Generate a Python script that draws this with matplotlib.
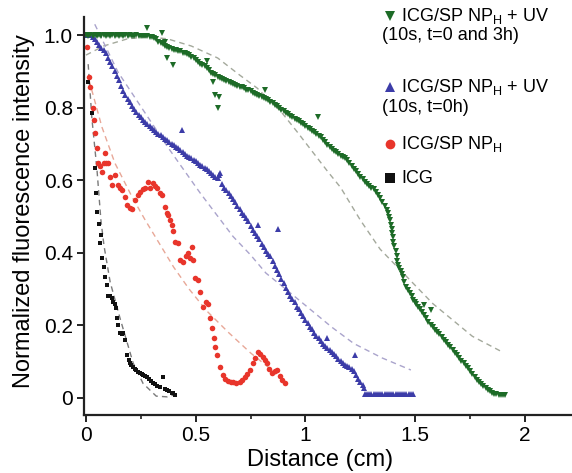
import numpy as np
import matplotlib
matplotlib.use("Agg")
import matplotlib.pyplot as plt
from matplotlib.ticker import MultipleLocator

plt.rcParams['font.family'] = ['Liberation Sans', 'DejaVu Sans']

# ICG/SP NP_H + UV (10s, t=0 and 3h): (distance cm, normalized intensity)
green_pts = [
    (0.00, 1.0), (0.01, 0.999), (0.02, 1.0), (0.03, 0.998), (0.04, 1.0), (0.05, 0.999), (0.06, 1.0),
    (0.07, 0.998), (0.08, 1.0), (0.09, 0.999), (0.10, 1.0), (0.11, 0.998), (0.12, 1.0), (0.13, 0.999),
    (0.14, 1.0), (0.15, 0.998), (0.16, 1.0), (0.17, 0.999), (0.18, 1.0), (0.19, 0.998), (0.20, 1.0),
    (0.21, 0.999), (0.22, 0.998), (0.23, 1.0), (0.24, 0.999), (0.25, 0.998), (0.26, 0.999), (0.27, 0.997),
    (0.28, 0.998), (0.29, 0.996), (0.30, 0.995), (0.31, 0.993), (0.32, 0.99), (0.33, 0.982), (0.34, 0.978),
    (0.35, 0.975), (0.36, 0.971), (0.37, 0.968), (0.38, 0.965), (0.39, 0.962), (0.40, 0.96), (0.41, 0.958),
    (0.42, 0.956), (0.43, 0.955), (0.44, 0.952), (0.45, 0.95), (0.46, 0.948), (0.47, 0.945), (0.48, 0.941),
    (0.49, 0.938), (0.50, 0.931), (0.51, 0.925), (0.52, 0.921), (0.53, 0.918), (0.54, 0.914), (0.55, 0.91),
    (0.56, 0.903), (0.57, 0.897), (0.58, 0.893), (0.59, 0.889), (0.60, 0.886), (0.61, 0.883), (0.62, 0.879),
    (0.63, 0.876), (0.64, 0.874), (0.65, 0.872), (0.66, 0.869), (0.67, 0.866), (0.68, 0.863), (0.69, 0.86),
    (0.70, 0.858), (0.71, 0.856), (0.72, 0.853), (0.73, 0.85), (0.74, 0.848), (0.75, 0.845), (0.76, 0.841),
    (0.77, 0.838), (0.78, 0.835), (0.79, 0.832), (0.80, 0.829), (0.81, 0.826), (0.82, 0.823), (0.83, 0.82),
    (0.84, 0.816), (0.85, 0.813), (0.86, 0.808), (0.87, 0.804), (0.88, 0.80), (0.89, 0.795), (0.90, 0.79),
    (0.91, 0.786), (0.92, 0.782), (0.93, 0.778), (0.94, 0.774), (0.95, 0.77), (0.96, 0.766), (0.97, 0.762),
    (0.98, 0.758), (0.99, 0.754), (1.00, 0.75), (1.01, 0.745), (1.02, 0.741), (1.03, 0.737), (1.04, 0.732),
    (1.05, 0.728), (1.06, 0.723), (1.07, 0.718), (1.08, 0.711), (1.09, 0.705), (1.10, 0.698), (1.11, 0.692),
    (1.12, 0.687), (1.13, 0.682), (1.14, 0.677), (1.15, 0.672), (1.16, 0.668), (1.17, 0.665), (1.18, 0.66),
    (1.19, 0.655), (1.20, 0.648), (1.21, 0.64), (1.22, 0.632), (1.23, 0.625), (1.24, 0.617), (1.25, 0.61),
    (1.26, 0.603), (1.27, 0.596), (1.28, 0.59), (1.29, 0.585), (1.30, 0.58), (1.31, 0.575), (1.32, 0.568),
    (1.33, 0.56), (1.34, 0.55), (1.35, 0.54), (1.36, 0.53), (1.37, 0.518), (1.375, 0.51), (1.38, 0.50),
    (1.385, 0.49), (1.39, 0.478), (1.393, 0.466), (1.395, 0.455), (1.398, 0.443), (1.40, 0.43),
    (1.405, 0.418), (1.41, 0.405), (1.415, 0.39), (1.418, 0.378), (1.42, 0.366), (1.428, 0.358),
    (1.435, 0.35), (1.44, 0.342), (1.445, 0.334), (1.45, 0.32), (1.46, 0.306), (1.468, 0.298),
    (1.475, 0.29), (1.483, 0.28), (1.49, 0.27), (1.498, 0.264), (1.505, 0.258), (1.512, 0.252),
    (1.52, 0.245), (1.53, 0.236), (1.54, 0.228), (1.55, 0.219), (1.56, 0.21), (1.57, 0.202), (1.58, 0.195),
    (1.59, 0.188), (1.60, 0.182), (1.61, 0.175), (1.62, 0.168), (1.63, 0.16), (1.64, 0.153), (1.65, 0.146),
    (1.66, 0.14), (1.67, 0.132), (1.68, 0.125), (1.69, 0.117), (1.70, 0.11), (1.71, 0.103), (1.72, 0.096),
    (1.73, 0.089), (1.74, 0.082), (1.75, 0.074), (1.76, 0.066), (1.77, 0.058), (1.78, 0.05), (1.79, 0.044),
    (1.80, 0.038), (1.81, 0.032), (1.82, 0.027), (1.83, 0.022), (1.84, 0.018), (1.85, 0.015), (1.86, 0.012),
    (1.87, 0.01), (1.88, 0.009), (1.89, 0.008), (1.90, 0.007), (1.91, 0.007),
    # scattered points off the main trace
    (0.28, 1.02), (0.345, 1.005), (0.36, 0.98), (0.37, 0.937), (0.395, 0.917), (0.55, 0.93), (0.58, 0.87),
    (0.59, 0.835), (0.605, 0.83), (0.60, 0.80), (0.815, 0.85), (1.055, 0.775), (1.54, 0.256), (1.57, 0.242),
]
green_fit_x = [0.0, 0.08, 0.19, 0.28, 0.37, 0.48, 0.60, 0.70, 0.78, 0.89, 0.96, 1.03, 1.10, 1.16,
               1.25, 1.34, 1.42, 1.50, 1.58, 1.66, 1.76, 1.886]
green_fit_y = [0.945, 0.97, 0.99, 0.995, 0.99, 0.97, 0.937, 0.89, 0.854, 0.788, 0.735, 0.68, 0.625, 0.58,
               0.49, 0.41, 0.36, 0.31, 0.26, 0.22, 0.17, 0.13]

# ICG/SP NP_H + UV (10s, t=0h)
blue_pts = [
    (0.00, 1.0), (0.01, 1.0), (0.02, 1.0), (0.03, 0.995), (0.04, 0.99), (0.05, 0.98), (0.06, 0.972),
    (0.07, 0.965), (0.08, 0.958), (0.09, 0.95), (0.10, 0.937), (0.11, 0.927), (0.12, 0.915), (0.13, 0.90),
    (0.14, 0.888), (0.15, 0.875), (0.16, 0.86), (0.17, 0.847), (0.18, 0.834), (0.19, 0.824), (0.20, 0.815),
    (0.21, 0.805), (0.22, 0.796), (0.23, 0.787), (0.24, 0.78), (0.25, 0.773), (0.26, 0.767), (0.27, 0.761),
    (0.28, 0.755), (0.29, 0.749), (0.30, 0.743), (0.31, 0.738), (0.32, 0.733), (0.33, 0.728), (0.34, 0.724),
    (0.35, 0.719), (0.36, 0.714), (0.37, 0.71), (0.38, 0.705), (0.39, 0.70), (0.40, 0.696), (0.41, 0.692),
    (0.42, 0.688), (0.43, 0.683), (0.44, 0.678), (0.45, 0.673), (0.46, 0.668), (0.47, 0.664), (0.48, 0.66),
    (0.49, 0.656), (0.50, 0.652), (0.51, 0.647), (0.52, 0.643), (0.53, 0.638), (0.54, 0.634), (0.55, 0.63),
    (0.56, 0.625), (0.57, 0.62), (0.58, 0.615), (0.59, 0.61), (0.60, 0.606), (0.605, 0.615), (0.61, 0.62),
    (0.62, 0.59), (0.63, 0.58), (0.64, 0.572), (0.65, 0.564), (0.66, 0.556), (0.67, 0.548), (0.68, 0.54),
    (0.69, 0.53), (0.70, 0.52), (0.71, 0.511), (0.72, 0.503), (0.73, 0.495), (0.74, 0.487), (0.75, 0.475),
    (0.76, 0.462), (0.77, 0.455), (0.78, 0.446), (0.79, 0.437), (0.80, 0.425), (0.81, 0.415), (0.82, 0.405),
    (0.83, 0.398), (0.84, 0.39), (0.85, 0.377), (0.86, 0.365), (0.87, 0.353), (0.88, 0.341), (0.89, 0.329),
    (0.90, 0.317), (0.91, 0.304), (0.92, 0.292), (0.93, 0.28), (0.94, 0.272), (0.95, 0.264), (0.96, 0.252),
    (0.97, 0.244), (0.98, 0.235), (0.99, 0.225), (1.00, 0.215), (1.01, 0.206), (1.02, 0.196), (1.03, 0.189),
    (1.04, 0.18), (1.05, 0.172), (1.06, 0.164), (1.07, 0.156), (1.08, 0.148), (1.09, 0.143), (1.10, 0.137),
    (1.11, 0.132), (1.12, 0.127), (1.13, 0.121), (1.14, 0.115), (1.15, 0.108), (1.16, 0.102), (1.17, 0.096),
    (1.18, 0.092), (1.19, 0.089), (1.20, 0.085), (1.21, 0.08), (1.22, 0.074), (1.23, 0.062), (1.24, 0.052),
    (1.25, 0.044), (1.26, 0.036), (1.265, 0.028),
    (1.27, 0.011), (1.28, 0.011), (1.29, 0.011), (1.30, 0.011), (1.31, 0.011), (1.32, 0.011), (1.33, 0.011),
    (1.34, 0.011), (1.35, 0.011), (1.36, 0.011), (1.37, 0.011), (1.38, 0.011), (1.39, 0.011), (1.40, 0.011),
    (1.41, 0.011), (1.42, 0.011), (1.43, 0.011), (1.44, 0.011), (1.45, 0.011), (1.46, 0.011), (1.47, 0.011),
    (1.48, 0.011), (1.49, 0.011),
    # scattered points off the main trace
    (0.437, 0.738), (0.785, 0.477), (0.875, 0.465), (1.097, 0.165), (1.225, 0.118),
]
blue_fit_x = [0.04, 0.146, 0.237, 0.374, 0.52, 0.67, 0.75, 0.82, 0.92, 1.01, 1.12, 1.22, 1.35, 1.48]
blue_fit_y = [1.03, 0.898, 0.815, 0.69, 0.565, 0.445, 0.394, 0.344, 0.295, 0.25, 0.195, 0.15, 0.11, 0.077]

# ICG/SP NP_H
red_x = [0.005, 0.015, 0.02, 0.03, 0.036, 0.041, 0.05, 0.055, 0.065, 0.073, 0.08, 0.09, 0.087, 0.10, 0.11,
         0.118, 0.132, 0.146, 0.155, 0.164, 0.178, 0.187, 0.20, 0.21, 0.223, 0.235, 0.246, 0.258, 0.269, 0.282,
         0.29, 0.305, 0.315, 0.323, 0.335, 0.346, 0.36, 0.367, 0.374, 0.382, 0.39, 0.397, 0.405, 0.42, 0.428,
         0.442, 0.456, 0.465, 0.474, 0.483, 0.487, 0.497, 0.51, 0.519, 0.533, 0.545, 0.556, 0.565, 0.574, 0.582,
         0.588, 0.597, 0.61, 0.624, 0.635, 0.648, 0.66, 0.67, 0.685, 0.70, 0.712, 0.724, 0.735, 0.747, 0.76,
         0.772, 0.785, 0.795, 0.806, 0.815, 0.824, 0.835, 0.847, 0.86, 0.87, 0.882, 0.893, 0.907]
red_y = [0.967, 0.885, 0.857, 0.80, 0.765, 0.73, 0.69, 0.647, 0.64, 0.623, 0.647, 0.647, 0.675, 0.647, 0.61,
         0.587, 0.614, 0.587, 0.58, 0.573, 0.554, 0.532, 0.523, 0.52, 0.545, 0.56, 0.567, 0.575, 0.578, 0.595,
         0.58, 0.592, 0.585, 0.578, 0.565, 0.559, 0.526, 0.51, 0.504, 0.49, 0.477, 0.46, 0.43, 0.427, 0.38,
         0.375, 0.39, 0.40, 0.385, 0.416, 0.38, 0.33, 0.325, 0.292, 0.25, 0.265, 0.26, 0.22, 0.193, 0.165,
         0.14, 0.118, 0.085, 0.063, 0.052, 0.047, 0.044, 0.044, 0.042, 0.044, 0.05, 0.058, 0.065, 0.077, 0.096,
         0.11, 0.127, 0.12, 0.113, 0.105, 0.096, 0.08, 0.069, 0.075, 0.077, 0.06, 0.05, 0.041]
red_fit_x = [0.014, 0.073, 0.132, 0.21, 0.27, 0.33, 0.40, 0.47, 0.55, 0.65, 0.75, 0.83, 0.905]
red_fit_y = [0.876, 0.746, 0.647, 0.554, 0.49, 0.43, 0.36, 0.30, 0.24, 0.18, 0.124, 0.085, 0.045]

# ICG
black_x = [0.005, 0.01, 0.027, 0.041, 0.046, 0.05, 0.059, 0.064, 0.068, 0.073, 0.08, 0.087, 0.096, 0.10,
           0.11, 0.118, 0.123, 0.13, 0.137, 0.141, 0.148, 0.155, 0.162, 0.169, 0.178, 0.187, 0.194, 0.20,
           0.207, 0.214, 0.222, 0.23, 0.238, 0.246, 0.254, 0.262, 0.27, 0.278, 0.286, 0.294, 0.305, 0.315,
           0.325, 0.337, 0.351, 0.36, 0.369, 0.38, 0.39, 0.396, 0.405]
black_y = [1.0, 0.87, 0.785, 0.634, 0.565, 0.513, 0.48, 0.427, 0.45, 0.386, 0.36, 0.333, 0.31, 0.28,
           0.28, 0.275, 0.265, 0.258, 0.248, 0.22, 0.2, 0.18, 0.175, 0.18, 0.16, 0.118, 0.105, 0.096,
           0.09, 0.085, 0.08, 0.076, 0.072, 0.07, 0.066, 0.062, 0.06, 0.058, 0.052, 0.048, 0.041, 0.038,
           0.034, 0.03, 0.058, 0.025, 0.022, 0.018, 0.015, 0.014, 0.008]
black_fit_x = [0.01, 0.027, 0.05, 0.068, 0.082, 0.11, 0.155, 0.215, 0.26, 0.32, 0.37, 0.41]
black_fit_y = [0.92, 0.77, 0.63, 0.49, 0.42, 0.32, 0.22, 0.096, 0.04, 0.005, 0.003, 0.01]

c_green = '#1d6b27'
c_blue = '#3c3ca8'
c_red = '#e8352b'
c_black = '#111111'

green_x, green_y = zip(*green_pts)
blue_x, blue_y = zip(*blue_pts)

W, H = 572, 473
fig = plt.figure(figsize=(W / 100, H / 100), dpi=100)
ax = fig.add_axes([84 / W, 1 - 415 / H, 1 - 84 / W, (415 - 17) / H])

dash = dict(linestyle=(0, (4, 3)), linewidth=1.0)
ax.plot(green_fit_x, green_fit_y, color='#a4a99c', **dash)
ax.plot(blue_fit_x, blue_fit_y, color='#aaa4cc', **dash)
ax.plot(red_fit_x, red_fit_y, color='#e8a898', **dash)
ax.plot(black_fit_x, black_fit_y, color='#7a7a7a', **dash)

ax.plot(black_x, black_y, 's', color=c_black, ms=3.3, mew=0)
ax.plot(red_x, red_y, 'o', color=c_red, ms=4.0, mew=0)
ax.plot(blue_x, blue_y, '^', color=c_blue, ms=4.2, mew=0)
ax.plot(green_x, green_y, 'v', color=c_green, ms=4.2, mew=0)

ax.set_xlim(-0.009, 2.214)
ax.set_ylim(-0.047, 1.05)
ax.spines['top'].set_visible(False)
ax.spines['right'].set_visible(False)
for s in ('left', 'bottom'):
    ax.spines[s].set_linewidth(1.6)
    ax.spines[s].set_color('#222222')

ax.xaxis.set_minor_locator(MultipleLocator(0.25))
ax.set_xticks([0, 0.5, 1, 1.5, 2])
ax.set_xticklabels(['0', '0.5', '1', '1.5', '2'])
ax.set_yticks([0, 0.2, 0.4, 0.6, 0.8, 1.0])
ax.set_yticklabels(['0', '0.2', '0.4', '0.6', '0.8', '1.0'])
ax.tick_params(which='major', direction='out', length=5, width=1.4, labelsize=15, color='#222222', pad=3)
ax.tick_params(which='minor', direction='out', length=3, width=1.2, color='#222222')
ax.tick_params(axis='y', which='minor', left=False)

fig.text(320 / W, 1 - 460 / H, 'Distance (cm)', ha='center', va='center', fontsize=17)
fig.text(24 / W, 1 - 211 / H, 'Normalized fluorescence intensity', ha='center', va='center',
         rotation=90, fontsize=17)

# legend drawn by hand so the second line of a label sits under the marker
legend_rows = [
    ('v', c_green, 'ICG/SP NP$_\\mathregular{H}$ + UV', '(10s, t=0 and 3h)', 16),
    ('^', c_blue, 'ICG/SP NP$_\\mathregular{H}$ + UV', '(10s, t=0h)', 87),
    ('o', c_red, 'ICG/SP NP$_\\mathregular{H}$', None, 144),
    ('s', c_black, 'ICG', None, 178),
]
for mk, col, line1, line2, ypx in legend_rows:
    fig.lines.append(plt.Line2D([390 / W], [1 - ypx / H], marker=mk, color=col, ms=7, mew=0,
                                linestyle='none', transform=fig.transFigure))
    fig.text(401 / W, 1 - ypx / H, line1, ha='left', va='center', fontsize=13)
    if line2:
        fig.text(382 / W, 1 - (ypx + 20) / H, line2, ha='left', va='center', fontsize=13)

fig.savefig('out.png', dpi=100)
